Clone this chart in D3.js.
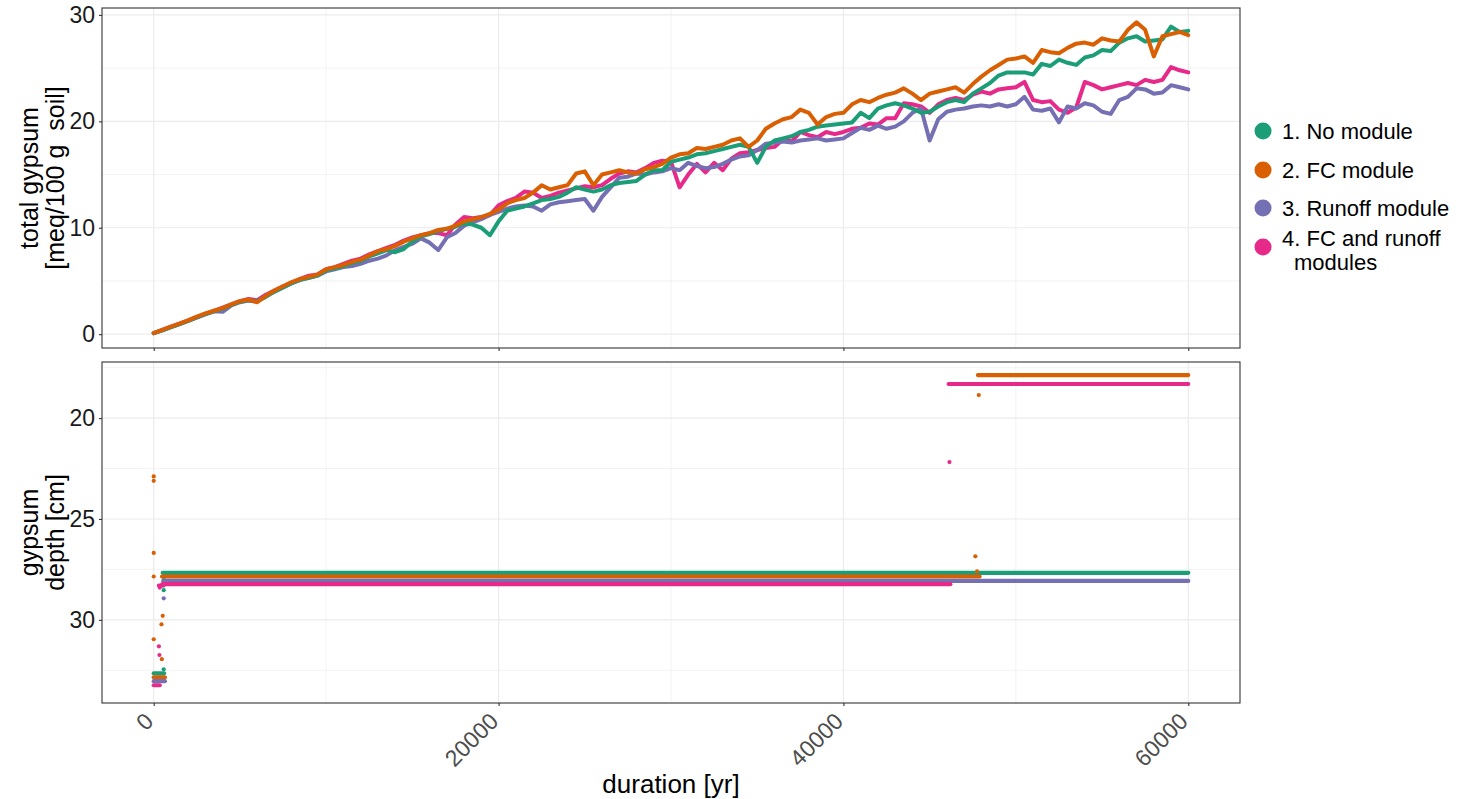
<!DOCTYPE html>
<html>
<head>
<meta charset="utf-8">
<script src="https://cdn.jsdelivr.net/npm/d3@7"></script>
<style>
  body { margin: 0; background: #fff; }
  svg text { font-family: "Liberation Sans", Arial, sans-serif; }
</style>
</head>
<body>
<script>
// time axis, one value per 500 yr
var years = d3.range(0, 60001, 500);

// total gypsum [meq/100 g soil]
var noModule = [0.1,0.35,0.65,0.95,1.25,1.6,1.9,2.15,2.4,2.75,3.05,3.2,3.1,3.5,4.0,4.4,4.8,5.1,5.3,5.5,
  6.0,6.2,6.4,6.7,6.9,7.3,7.6,7.9,7.7,8.0,8.7,9.2,9.4,9.7,9.9,10.1,10.4,10.3,10.0,9.3,
  10.6,11.6,11.8,12.0,12.3,12.6,12.7,12.9,13.3,13.8,13.6,13.4,13.6,14.0,14.2,14.3,14.4,15.0,15.4,15.4,
  16.2,16.4,16.6,16.9,17.0,17.2,17.4,17.6,17.8,17.6,16.1,17.6,18.2,18.4,18.6,19.0,19.2,19.5,19.6,19.7,
  19.8,19.9,20.8,20.3,21.2,21.5,21.7,21.5,21.2,20.8,20.9,21.4,21.8,22.0,21.8,22.6,23.1,23.6,24.3,24.6,
  24.6,24.6,24.4,25.4,25.2,25.8,25.5,25.3,26.0,26.2,26.7,26.6,27.4,27.8,28.0,27.5,27.6,27.7,28.9,28.4,28.5];
var fcModule = [0.1,0.4,0.7,1.0,1.3,1.65,1.95,2.2,2.45,2.8,3.1,3.25,3.0,3.6,4.1,4.5,4.9,5.2,5.4,5.6,
  6.1,6.3,6.5,6.8,7.0,7.4,7.8,8.0,8.3,8.7,9.0,9.3,9.5,9.8,9.9,10.2,10.6,10.8,11.0,11.3,
  11.7,12.3,12.6,12.8,13.3,14.0,13.6,13.8,14.0,15.1,15.3,14.0,15.0,15.2,15.4,15.2,15.1,15.5,15.7,16.0,
  16.6,16.9,17.0,17.5,17.4,17.6,17.8,18.2,18.4,17.6,18.2,19.3,19.8,20.2,20.4,21.1,20.8,19.7,20.4,20.7,
  20.8,21.6,22.0,21.8,22.2,22.5,22.7,23.1,22.6,22.0,22.6,22.8,23.0,23.2,22.7,23.5,24.2,24.8,25.3,25.8,
  25.9,26.1,25.5,26.7,26.5,26.4,26.9,27.3,27.4,27.2,27.8,27.6,27.5,28.6,29.3,28.6,26.1,28.0,28.2,28.4,28.1];
var runoffModule = [0.1,0.35,0.65,0.95,1.25,1.55,1.85,2.15,2.1,2.7,3.0,3.15,3.05,3.6,4.0,4.4,4.8,5.1,5.3,5.5,
  5.9,6.1,6.3,6.4,6.6,6.9,7.1,7.4,7.9,8.2,8.5,9.0,8.6,7.9,9.1,9.5,10.2,10.5,10.8,11.2,
  11.5,11.8,12.0,12.1,12.0,11.6,12.2,12.4,12.5,12.6,12.7,11.6,12.9,13.8,14.7,14.8,15.1,15.0,15.2,15.3,
  15.6,15.4,16.1,15.8,15.6,15.7,16.0,16.4,16.7,16.8,17.3,17.9,18.0,18.1,18.0,18.2,18.3,18.4,18.2,18.3,
  18.4,18.9,19.4,19.2,19.6,19.3,19.5,20.0,20.8,21.2,18.2,20.2,20.9,21.1,21.2,21.4,21.5,21.4,21.6,21.4,
  21.6,22.3,21.1,21.0,21.2,19.9,21.4,21.2,21.7,21.5,20.9,20.7,22.0,22.3,23.1,23.0,22.6,22.7,23.4,23.2,23.0];
var fcRunoff = [0.1,0.4,0.7,1.0,1.3,1.6,1.9,2.2,2.5,2.8,3.1,3.3,3.2,3.7,4.1,4.5,4.8,5.2,5.5,5.6,
  6.1,6.3,6.6,6.9,7.1,7.5,7.8,8.1,8.4,8.8,9.1,9.3,9.5,9.5,9.3,10.3,11.0,10.9,11.0,11.2,
  12.1,12.5,12.8,13.4,13.3,12.8,13.0,13.3,13.5,13.7,13.9,13.8,14.0,14.6,15.1,15.3,15.2,15.6,16.1,16.3,
  16.2,13.8,15.0,16.0,15.2,16.1,15.4,16.5,17.0,17.1,17.3,17.5,17.6,18.3,18.1,19.0,18.7,18.5,19.0,18.8,
  19.0,19.3,19.4,19.8,19.7,20.3,20.3,21.7,21.6,21.4,20.8,21.6,22.0,22.2,22.0,22.5,22.8,22.6,23.0,23.1,
  23.2,23.7,22.0,21.8,21.9,21.1,20.8,21.3,23.7,23.4,23.0,23.2,23.4,23.6,23.4,23.9,23.7,23.9,25.1,24.8,24.6];

// gypsum depth [cm]: constant runs [from yr, to yr, depth] and single points [yr, depth]
var noModuleRuns = [[0, 600, 32.65], [520, 60000, 27.67]];
var fcModuleRuns = [[0, 650, 32.85], [480, 47900, 27.85], [47800, 60000, 17.87]];
var runoffRuns = [[0, 650, 33.04], [550, 60000, 28.07]];
var fcRunoffRuns = [[0, 350, 33.24], [300, 480, 28.3], [500, 46200, 28.23], [46100, 60000, 18.31]];
var noModulePts = [[580, 32.45], [580, 28.53], [580, 27.9]];
var fcModulePts = [[0, 22.89], [0, 23.11], [0, 26.68], [0, 27.85], [0, 30.96], [450, 30.22], [520, 29.8],
  [470, 31.95], [47650, 26.85], [47750, 27.6], [47850, 18.86]];
var runoffPts = [[580, 28.93], [580, 28.3]];
var fcRunoffPts = [[300, 31.31], [330, 31.74], [350, 28.4], [46150, 22.18]];

var labels = ["1. No module", "2. FC module", "3. Runoff module", "4. FC and runoff"];
var colors = ["#1B9E77", "#D95F02", "#7570B3", "#E7298A"];
var xTicks = [0, 20000, 40000, 60000];
var gypTicks = [0, 10, 20, 30];
var depthTicks = [20, 25, 30];

var W = 1466, H = 799;
var left = 102, right = 1240;
var p1 = {top: 8, bottom: 348}, p2 = {top: 362, bottom: 703};

var svg = d3.select("body").append("svg")
    .attr("width", W)
    .attr("height", H);

var x = d3.scaleLinear().domain([-3000, 63000]).range([left, right]);
var y1 = d3.scaleLinear().domain([-1.3, 30.65]).range([p1.bottom, p1.top]);
var y2 = d3.scaleLinear().domain([17.22, 34.12]).range([p2.top, p2.bottom]);

function panel(y, p, major, minor) {
    var g = svg.append("g");
    // minor grid
    minor.forEach(function (v) {
        g.append("line").attr("x1", left).attr("x2", right)
            .attr("y1", y(v)).attr("y2", y(v))
            .attr("stroke", "#EBEBEB").attr("stroke-width", 0.6);
    });
    [10000, 30000, 50000].forEach(function (v) {
        g.append("line").attr("x1", x(v)).attr("x2", x(v))
            .attr("y1", p.top).attr("y2", p.bottom)
            .attr("stroke", "#EBEBEB").attr("stroke-width", 0.6);
    });
    major.forEach(function (v) {
        g.append("line").attr("x1", left).attr("x2", right)
            .attr("y1", y(v)).attr("y2", y(v))
            .attr("stroke", "#EBEBEB").attr("stroke-width", 1.2);
    });
    xTicks.forEach(function (v) {
        g.append("line").attr("x1", x(v)).attr("x2", x(v))
            .attr("y1", p.top).attr("y2", p.bottom)
            .attr("stroke", "#EBEBEB").attr("stroke-width", 1.2);
    });
    return g;
}

var g1 = panel(y1, p1, gypTicks, [5, 15, 25]);
var g2 = panel(y2, p2, depthTicks, [17.5, 22.5, 27.5, 32.5]);

// top panel: lines
var series = [noModule, fcModule, runoffModule, fcRunoff];
var order = [3, 2, 0, 1];
var line = d3.line()
    .x(function (d, i) { return x(years[i]); })
    .y(function (d) { return y1(d); });
order.forEach(function (k) {
    g1.append("path")
        .datum(series[k])
        .attr("d", line)
        .attr("fill", "none")
        .attr("stroke", colors[k])
        .attr("stroke-width", 4)
        .attr("stroke-linejoin", "round")
        .attr("stroke-linecap", "round");
});

// bottom panel: runs and points
var runs = [noModuleRuns, fcModuleRuns, runoffRuns, fcRunoffRuns];
var pts = [noModulePts, fcModulePts, runoffPts, fcRunoffPts];
[0, 1, 2, 3].forEach(function (k) {
    g2.selectAll(".run" + k)
        .data(runs[k])
        .enter().append("line")
        .attr("x1", function (d) { return x(d[0]); })
        .attr("x2", function (d) { return x(d[1]); })
        .attr("y1", function (d) { return y2(d[2]); })
        .attr("y2", function (d) { return y2(d[2]); })
        .attr("stroke", colors[k])
        .attr("stroke-width", 4.2)
        .attr("stroke-linecap", "round");
    g2.selectAll(".pt" + k)
        .data(pts[k])
        .enter().append("circle")
        .attr("cx", function (d) { return x(d[0]); })
        .attr("cy", function (d) { return y2(d[1]); })
        .attr("r", 2.1)
        .attr("fill", colors[k]);
});

// panel borders
[p1, p2].forEach(function (p) {
    svg.append("rect")
        .attr("x", left).attr("y", p.top)
        .attr("width", right - left).attr("height", p.bottom - p.top)
        .attr("fill", "none").attr("stroke", "#333333").attr("stroke-width", 1.1);
});

// axes
var yAxis1 = d3.axisLeft(y1).tickValues(gypTicks).tickSize(3).tickPadding(4);
var yAxis2 = d3.axisLeft(y2).tickValues(depthTicks).tickSize(3).tickPadding(4);
var xAxisTop = d3.axisBottom(x).tickValues(xTicks).tickSize(3).tickFormat("");
var xAxis = d3.axisBottom(x).tickValues(xTicks).tickSize(3).tickPadding(4).tickFormat(d3.format("d"));

function styleAxis(a) {
    a.select(".domain").remove();
    a.selectAll(".tick line").attr("stroke", "#333333").attr("stroke-width", 1.1);
    a.selectAll("text").attr("fill", "#4D4D4D").style("font-size", "23px");
}

svg.append("g").attr("transform", "translate(" + left + ",0)").call(yAxis1).call(styleAxis)
    .selectAll("text").attr("fill", "#1a1a1a");
svg.append("g").attr("transform", "translate(" + left + ",0)").call(yAxis2).call(styleAxis)
    .selectAll("text").attr("fill", "#1a1a1a");
svg.append("g").attr("transform", "translate(0," + p1.bottom + ")").call(xAxisTop).call(styleAxis);
var xa = svg.append("g").attr("transform", "translate(0," + p2.bottom + ")").call(xAxis).call(styleAxis);
xa.selectAll("text")
    .attr("text-anchor", "end")
    .attr("dy", "0.35em")
    .attr("transform", "translate(-10,9) rotate(-45)");

// axis titles
svg.append("text")
    .attr("x", (left + right) / 2).attr("y", 793)
    .attr("text-anchor", "middle")
    .style("font-size", "26px")
    .text("duration [yr]");

function yTitle(lines, cy) {
    var t = svg.append("text")
        .attr("transform", "translate(0," + cy + ") rotate(-90)")
        .attr("text-anchor", "middle")
        .style("font-size", "25px");
    lines.forEach(function (s, i) {
        t.append("tspan").attr("x", 0).attr("y", 38 + i * 26).text(s);
    });
}
yTitle(["total gypsum", "[meq/100 g\u00A0\u00A0soil]"], (p1.top + p1.bottom) / 2);
yTitle(["gypsum", "depth [cm]"], (p2.top + p2.bottom) / 2);

// legend
var legY = [131, 170, 208, 247];
var leg = svg.append("g");
labels.forEach(function (s, i) {
    leg.append("circle")
        .attr("cx", 1263).attr("cy", legY[i]).attr("r", 8.5)
        .attr("fill", colors[i]);
    leg.append("text")
        .attr("x", 1282).attr("y", i < 3 ? legY[i] + 8 : 246)
        .style("font-size", "22px")
        .text(s);
});
leg.append("text")
    .attr("x", 1294).attr("y", 270)
    .style("font-size", "22px")
    .text("modules");
</script>
</body>
</html>
